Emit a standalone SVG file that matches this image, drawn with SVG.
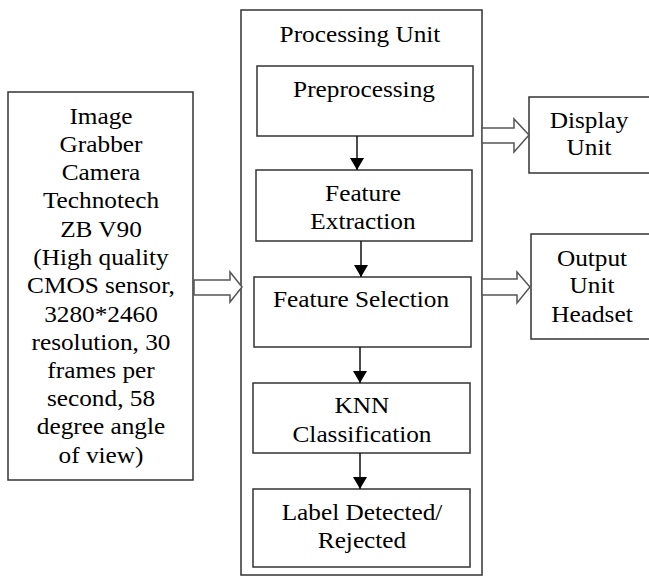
<svg xmlns="http://www.w3.org/2000/svg" width="649" height="577" viewBox="0 0 649 577">
  <style>
    .box { fill: #ffffff; stroke: #333333; stroke-width: 1.5; }
    .flow { stroke: #111111; stroke-width: 1.5; fill: none; }
    .block { fill: #ffffff; stroke: #555555; stroke-width: 1.5; stroke-linejoin: miter; }
    .t { font-family: "Liberation Serif", "Times New Roman", Tinos, "DejaVu Serif", serif; font-size: 23px; fill: #000000; text-anchor: middle; }
  </style>
  <defs>
    <marker id="head" viewBox="0 0 12 14" refX="12" refY="7" markerWidth="12" markerHeight="14" markerUnits="userSpaceOnUse" orient="auto">
      <path d="M0,0 L12,7 L0,14 z" fill="#000000"/>
    </marker>
  </defs>
  <rect width="649" height="577" fill="#ffffff"/>

  <!-- camera / input block -->
  <g id="camera">
    <rect class="box" x="8" y="92" width="185" height="388"/>
    <g class="t">
      <text transform="translate(101,124) scale(1.1,1)">Image</text>
      <text transform="translate(101,152) scale(1.1,1)">Grabber</text>
      <text transform="translate(101,180) scale(1.1,1)">Camera</text>
      <text transform="translate(101,208) scale(1.1,1)">Technotech</text>
      <text transform="translate(101,237) scale(1.1,1)">ZB V90</text>
      <text transform="translate(101,265) scale(1.1,1)">(High quality</text>
      <text transform="translate(101,293) scale(1.1,1)">CMOS sensor,</text>
      <text transform="translate(101,322) scale(1.1,1)">3280*2460</text>
      <text transform="translate(101,350) scale(1.1,1)">resolution, 30</text>
      <text transform="translate(101,378) scale(1.1,1)">frames per</text>
      <text transform="translate(101,406) scale(1.1,1)">second, 58</text>
      <text transform="translate(101,434) scale(1.1,1)">degree angle</text>
      <text transform="translate(101,463) scale(1.1,1)">of view)</text>
    </g>
  </g>

  <!-- processing unit container -->
  <g id="processing-unit">
    <rect class="box" x="241" y="10" width="241" height="565"/>
    <text class="t" transform="translate(360,42) scale(1.1,1)">Processing Unit</text>
  </g>

  <g id="preprocessing">
    <rect class="box" x="257" y="66" width="216" height="70"/>
    <text class="t" transform="translate(364,97) scale(1.1,1)">Preprocessing</text>
  </g>

  <g id="feature-extraction">
    <rect class="box" x="256" y="170" width="216" height="71"/>
    <g class="t">
      <text transform="translate(363,201) scale(1.1,1)">Feature</text>
      <text transform="translate(363,229) scale(1.1,1)">Extraction</text>
    </g>
  </g>

  <g id="feature-selection">
    <rect class="box" x="254" y="277" width="217" height="70"/>
    <text class="t" transform="translate(361,307) scale(1.1,1)">Feature Selection</text>
  </g>

  <g id="knn">
    <rect class="box" x="253" y="383" width="217" height="70"/>
    <g class="t">
      <text transform="translate(362,413) scale(1.1,1)">KNN</text>
      <text transform="translate(362,442) scale(1.1,1)">Classification</text>
    </g>
  </g>

  <g id="label">
    <rect class="box" x="253" y="489" width="217" height="78"/>
    <g class="t">
      <text transform="translate(362,520) scale(1.1,1)">Label Detected/</text>
      <text transform="translate(362,548) scale(1.1,1)">Rejected</text>
    </g>
  </g>

  <g id="display-unit">
    <rect class="box" x="529" y="97" width="130" height="76"/>
    <g class="t">
      <text transform="translate(589,128) scale(1.1,1)">Display</text>
      <text transform="translate(589,155) scale(1.1,1)">Unit</text>
    </g>
  </g>

  <g id="output-unit">
    <rect class="box" x="531" y="234" width="130" height="105"/>
    <g class="t">
      <text transform="translate(592,266) scale(1.1,1)">Output</text>
      <text transform="translate(592,293) scale(1.1,1)">Unit</text>
      <text transform="translate(592,322) scale(1.1,1)">Headset</text>
    </g>
  </g>

  <!-- connectors -->
  <g id="connectors">
    <line class="flow" x1="357" y1="136" x2="357" y2="170" marker-end="url(#head)"/>
    <line class="flow" x1="361" y1="241" x2="361" y2="277" marker-end="url(#head)"/>
    <line class="flow" x1="360" y1="347" x2="360" y2="383" marker-end="url(#head)"/>
    <line class="flow" x1="360" y1="453" x2="360" y2="489" marker-end="url(#head)"/>
    <polygon class="block" points="194,280 230,280 230,272 242,287 230,302 230,295 194,295"/>
    <polygon class="block" points="482,128 514,128 514,119 529,135 514,152 514,143 482,143"/>
    <polygon class="block" points="482,279 517,279 517,272 530,287 517,303 517,295 482,295"/>
  </g>
</svg>
